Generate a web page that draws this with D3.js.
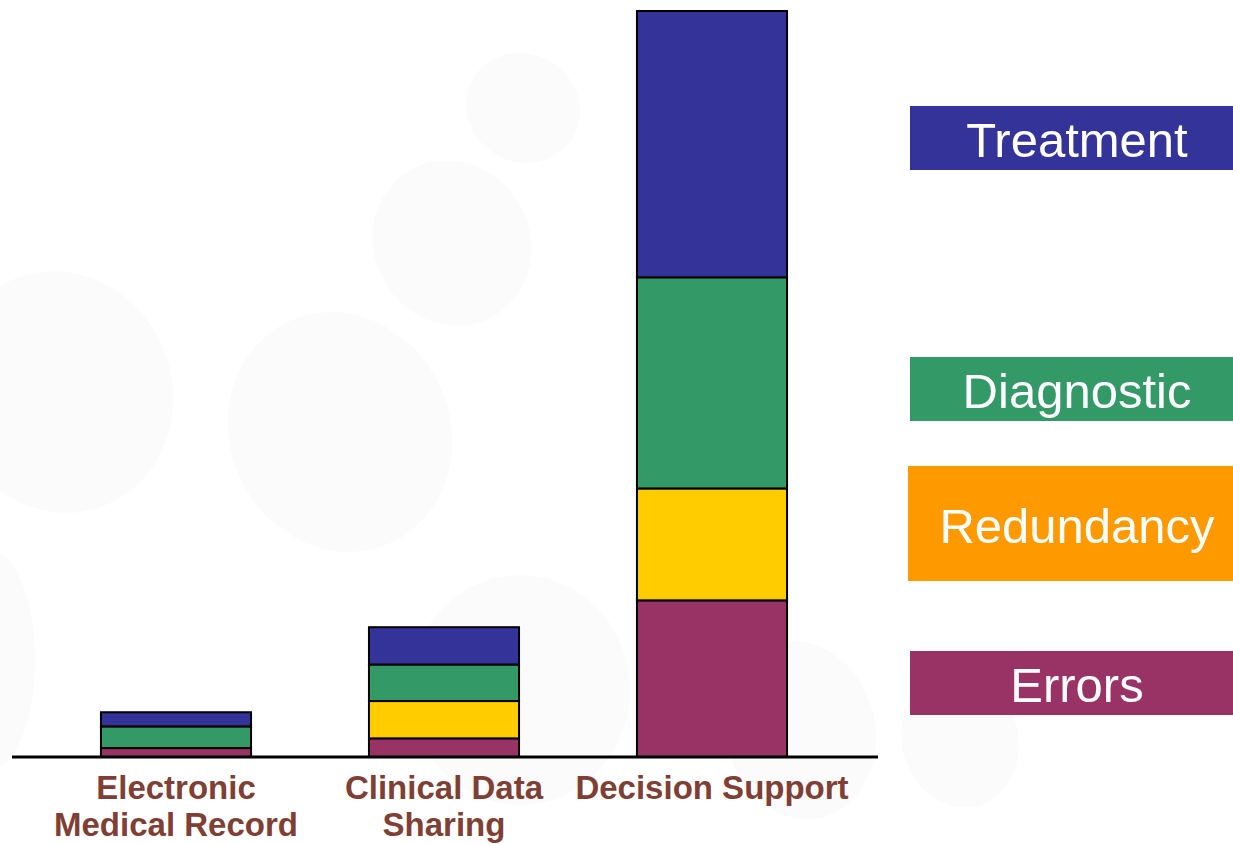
<!DOCTYPE html>
<html>
<head>
<meta charset="utf-8">
<script src="https://cdn.jsdelivr.net/npm/d3@7"></script>
<style>
  html, body { margin: 0; padding: 0; background: #fff; }
  svg { display: block; }
</style>
</head>
<body>
<svg id="chart"></svg>
<script>
// data (arbitrary units, tallest bar = 100)
var categories = ["Electronic Medical Record", "Clinical Data Sharing", "Decision Support"];
var categoryLines = [["Electronic", "Medical Record"], ["Clinical Data", "Sharing"], ["Decision Support"]];
var keys = ["Errors", "Redundancy", "Diagnostic", "Treatment"];
var errors     = [1.2, 2.5, 21.0];
var redundancy = [0,   5.0, 15.0];
var diagnostic = [2.9, 4.9, 28.3];
var treatment  = [1.9, 5.0, 35.7];

var barColors = {Errors: "#993366", Redundancy: "#ffcc00", Diagnostic: "#339966", Treatment: "#333399"};
var legendColors = {Errors: "#993366", Redundancy: "#ff9900", Diagnostic: "#339966", Treatment: "#333399"};

var W = 1233, H = 844;
var svg = d3.select("#chart").attr("width", W).attr("height", H);

// faint background blobs
var blobs = [
  {cx: 523, cy: 108, rx: 58, ry: 54, r: 30},
  {cx: 452, cy: 243, rx: 78, ry: 84, r: -30},
  {cx: 340, cy: 432, rx: 110, ry: 122, r: -25},
  {cx: 60, cy: 392, rx: 112, ry: 122, r: -20},
  {cx: 520, cy: 690, rx: 110, ry: 115, r: 0},
  {cx: 800, cy: 730, rx: 75, ry: 90, r: -15},
  {cx: 960, cy: 740, rx: 58, ry: 68, r: -15},
  {cx: -10, cy: 660, rx: 45, ry: 110, r: 0}
];
svg.append("g").selectAll("ellipse").data(blobs).join("ellipse")
  .attr("transform", function(d) { return "translate(" + d.cx + "," + d.cy + ") rotate(" + d.r + ")"; })
  .attr("rx", function(d) { return d.rx; })
  .attr("ry", function(d) { return d.ry; })
  .attr("fill", "#fbfbfb");

var table = categories.map(function(c, i) {
  return {cat: c, Errors: errors[i], Redundancy: redundancy[i], Diagnostic: diagnostic[i], Treatment: treatment[i]};
});

var x = d3.scaleBand().domain(categories).range([42, 846]).paddingInner(0.44).paddingOuter(0.22);
var y = d3.scaleLinear().domain([0, 100]).range([757, 11]);

var series = d3.stack().keys(keys)(table);

svg.append("g").selectAll("g").data(series).join("g")
  .attr("fill", function(d) { return barColors[d.key]; })
  .selectAll("rect").data(function(d) { return d.filter(function(p) { return p[1] - p[0] > 0; }); }).join("rect")
  .attr("x", function(d) { return x(d.data.cat); })
  .attr("y", function(d) { return y(d[1]); })
  .attr("width", x.bandwidth())
  .attr("height", function(d) { return y(d[0]) - y(d[1]); })
  .attr("stroke", "#000")
  .attr("stroke-width", 2);

// base line
svg.append("line")
  .attr("x1", 12).attr("x2", 878)
  .attr("y1", y(0)).attr("y2", y(0))
  .attr("stroke", "#000").attr("stroke-width", 3);

// category labels
var labels = svg.append("g")
  .attr("font-family", "'Liberation Sans', Arial, sans-serif")
  .attr("font-weight", "bold")
  .attr("font-size", 33)
  .attr("fill", "#7f3f35")
  .attr("text-anchor", "middle");
categories.forEach(function(c, i) {
  var t = labels.append("text").attr("x", x(c) + x.bandwidth() / 2).attr("y", 799);
  categoryLines[i].forEach(function(line, j) {
    t.append("tspan").attr("x", x(c) + x.bandwidth() / 2).attr("dy", j === 0 ? 0 : 37).text(line);
  });
});

// legend boxes on the right
var legendBoxes = [
  {key: "Treatment", x: 910, y: 106, h: 64},
  {key: "Diagnostic", x: 910, y: 357, h: 64},
  {key: "Redundancy", x: 908, y: 466, h: 115},
  {key: "Errors", x: 910, y: 651, h: 64}
];
var lg = svg.append("g").selectAll("g").data(legendBoxes).join("g");
lg.append("rect")
  .attr("x", function(d) { return d.x; })
  .attr("y", function(d) { return d.y; })
  .attr("width", function(d) { return W - d.x; })
  .attr("height", function(d) { return d.h; })
  .attr("fill", function(d) { return legendColors[d.key]; });
lg.append("text")
  .attr("x", 1077)
  .attr("y", function(d) { return d.y + d.h / 2 + 19; })
  .attr("text-anchor", "middle")
  .attr("font-family", "'Liberation Sans', Arial, sans-serif")
  .attr("font-size", 49)
  .attr("fill", "#fff")
  .text(function(d) { return d.key; });
</script>
</body>
</html>
